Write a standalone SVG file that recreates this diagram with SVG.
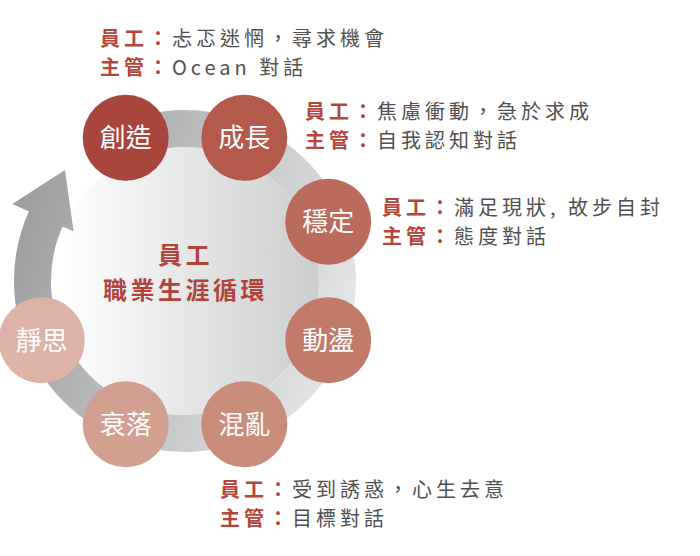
<svg xmlns="http://www.w3.org/2000/svg" width="700" height="556" viewBox="0 0 700 556">
  <defs>
    <linearGradient id="ringGrad" gradientUnits="userSpaceOnUse" x1="10" y1="200" x2="374" y2="317">
      <stop offset="0" stop-color="#9a9b9c"/>
      <stop offset="1" stop-color="#e9eaea"/>
    </linearGradient>
    <linearGradient id="diskGrad" gradientUnits="userSpaceOnUse" x1="60" y1="0" x2="322" y2="0">
      <stop offset="0" stop-color="#ffffff"/>
      <stop offset="1" stop-color="#cbcccc"/>
    </linearGradient>
    <style>
      .node text { font-family: "Noto Sans CJK TC", "Noto Sans CJK SC", sans-serif; font-size: 26px; fill: #ffffff; text-anchor: middle; }
      .title { font-family: "Noto Sans CJK TC", sans-serif; font-size: 24px; letter-spacing: 3.5px; font-weight: bold; fill: #b0443c; text-anchor: middle; }
      .note { font-family: "Noto Sans CJK TC", "Noto Sans CJK SC", sans-serif; font-size: 20px; letter-spacing: 4px; }
      .lab { font-weight: bold; fill: #b4463e; }
      .body { fill: #505050; }
    </style>
  </defs>
  <rect width="700" height="556" fill="#ffffff"/>

  <g id="cycle">
    <circle cx="185" cy="281" r="134" fill="url(#diskGrad)"/>
    <text class="title" x="185.5" y="264">員工</text>
    <text class="title" x="185.5" y="299">職業生涯循環</text>
  </g>

  <g id="connectors">
    <path d="M145.53,133.70 A152.5,152.5 0 1 1 46.2,217.8" fill="none" stroke="url(#ringGrad)" stroke-width="37"/>
    <polygon points="12.3,204.1 65,170 73.6,231.4" fill="url(#ringGrad)"/>
  </g>

  <g id="node-chuangzao" class="node">
    <circle cx="125.7" cy="137.8" r="43" fill="#a8463e"/>
    <text x="125.7" y="147">創造</text>
  </g>
  <g id="node-chengzhang" class="node">
    <circle cx="244.3" cy="137.8" r="43" fill="#b35a4d"/>
    <text x="244.3" y="147">成長</text>
  </g>
  <g id="node-wending" class="node">
    <circle cx="328.2" cy="221.7" r="43" fill="#bb6b5c"/>
    <text x="328.2" y="231">穩定</text>
  </g>
  <g id="node-dongdang" class="node">
    <circle cx="328.2" cy="340.3" r="43" fill="#c27b6b"/>
    <text x="328.2" y="349.5">動盪</text>
  </g>
  <g id="node-hunluan" class="node">
    <circle cx="244.3" cy="424.2" r="43" fill="#c98c7b"/>
    <text x="244.3" y="433.5">混亂</text>
  </g>
  <g id="node-shuailuo" class="node">
    <circle cx="125.7" cy="424.2" r="43" fill="#d2a090"/>
    <text x="125.7" y="433.5">衰落</text>
  </g>
  <g id="node-jingsi" class="node">
    <circle cx="41.8" cy="340.3" r="43" fill="#dcb3a6"/>
    <text x="41.8" y="349.5">靜思</text>
  </g>

  <g id="note-chuangzao" class="note">
    <text x="100" y="46"><tspan class="lab">員工：</tspan><tspan class="body">忐忑迷惘，尋求機會</tspan></text>
    <text x="100" y="75"><tspan class="lab">主管：</tspan><tspan class="body">Ocean 對話</tspan></text>
  </g>
  <g id="note-chengzhang" class="note">
    <text x="305" y="119"><tspan class="lab">員工：</tspan><tspan class="body">焦慮衝動，急於求成</tspan></text>
    <text x="305" y="148"><tspan class="lab">主管：</tspan><tspan class="body">自我認知對話</tspan></text>
  </g>
  <g id="note-wending" class="note">
    <text x="382" y="215"><tspan class="lab">員工：</tspan><tspan class="body">滿足現狀, 故步自封</tspan></text>
    <text x="382" y="244"><tspan class="lab">主管：</tspan><tspan class="body">態度對話</tspan></text>
  </g>
  <g id="note-hunluan" class="note">
    <text x="220" y="497"><tspan class="lab">員工：</tspan><tspan class="body">受到誘惑，心生去意</tspan></text>
    <text x="220" y="526"><tspan class="lab">主管：</tspan><tspan class="body">目標對話</tspan></text>
  </g>
</svg>
